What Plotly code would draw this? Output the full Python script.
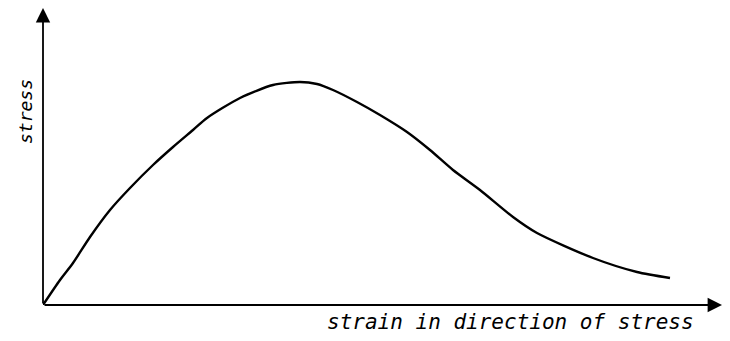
import plotly.graph_objects as go

# curve (arbitrary units)
strain = [0, 17, 30, 47, 67, 87, 110, 130, 150, 164, 197, 230, 257, 274, 290, 314, 337,
          364, 387, 410, 437, 470, 494, 550, 594, 627]
stress = [0, 25, 42, 68, 95, 117, 140, 158, 175, 187, 207, 220, 223, 221, 215, 203, 190,
          173, 155, 135, 115, 88, 72, 47, 33, 27]

X_MAX = 679
Y_MAX = 297

fig = go.Figure()

fig.add_trace(go.Scatter(
    x=strain, y=stress,
    mode='lines',
    line=dict(color='black', width=2.4, shape='spline', smoothing=0.7),
    hoverinfo='skip',
    showlegend=False
))

# axes drawn as arrows
fig.add_annotation(x=X_MAX, y=0, ax=0, ay=0, xref='x', yref='y', axref='x', ayref='y',
                   showarrow=True, arrowhead=2, arrowsize=1.6, arrowwidth=1.8, arrowcolor='black', text='')
fig.add_annotation(x=0, y=Y_MAX, ax=0, ay=0, xref='x', yref='y', axref='x', ayref='y',
                   showarrow=True, arrowhead=2, arrowsize=1.6, arrowwidth=1.8, arrowcolor='black', text='')

fig.add_annotation(x=467, y=0, xref='x', yref='y', xanchor='center', yanchor='middle', yshift=-17,
                   text='<i>strain in direction of stress</i>', showarrow=False,
                   font=dict(family='DejaVu Sans Mono', size=21, color='black'))
fig.add_annotation(x=0, y=193, xref='x', yref='y', xanchor='center', yanchor='middle', xshift=-18,
                   text='<i>stress</i>', textangle=-90, showarrow=False,
                   font=dict(family='DejaVu Sans Mono', size=18, color='black'))

fig.update_layout(
    width=722, height=333,
    margin=dict(l=35, r=8, t=0, b=36),
    paper_bgcolor='white',
    plot_bgcolor='white',
    xaxis=dict(range=[0, X_MAX], visible=False, fixedrange=True),
    yaxis=dict(range=[0, Y_MAX], visible=False, fixedrange=True),
    showlegend=False
)

fig.write_html("out.html")
